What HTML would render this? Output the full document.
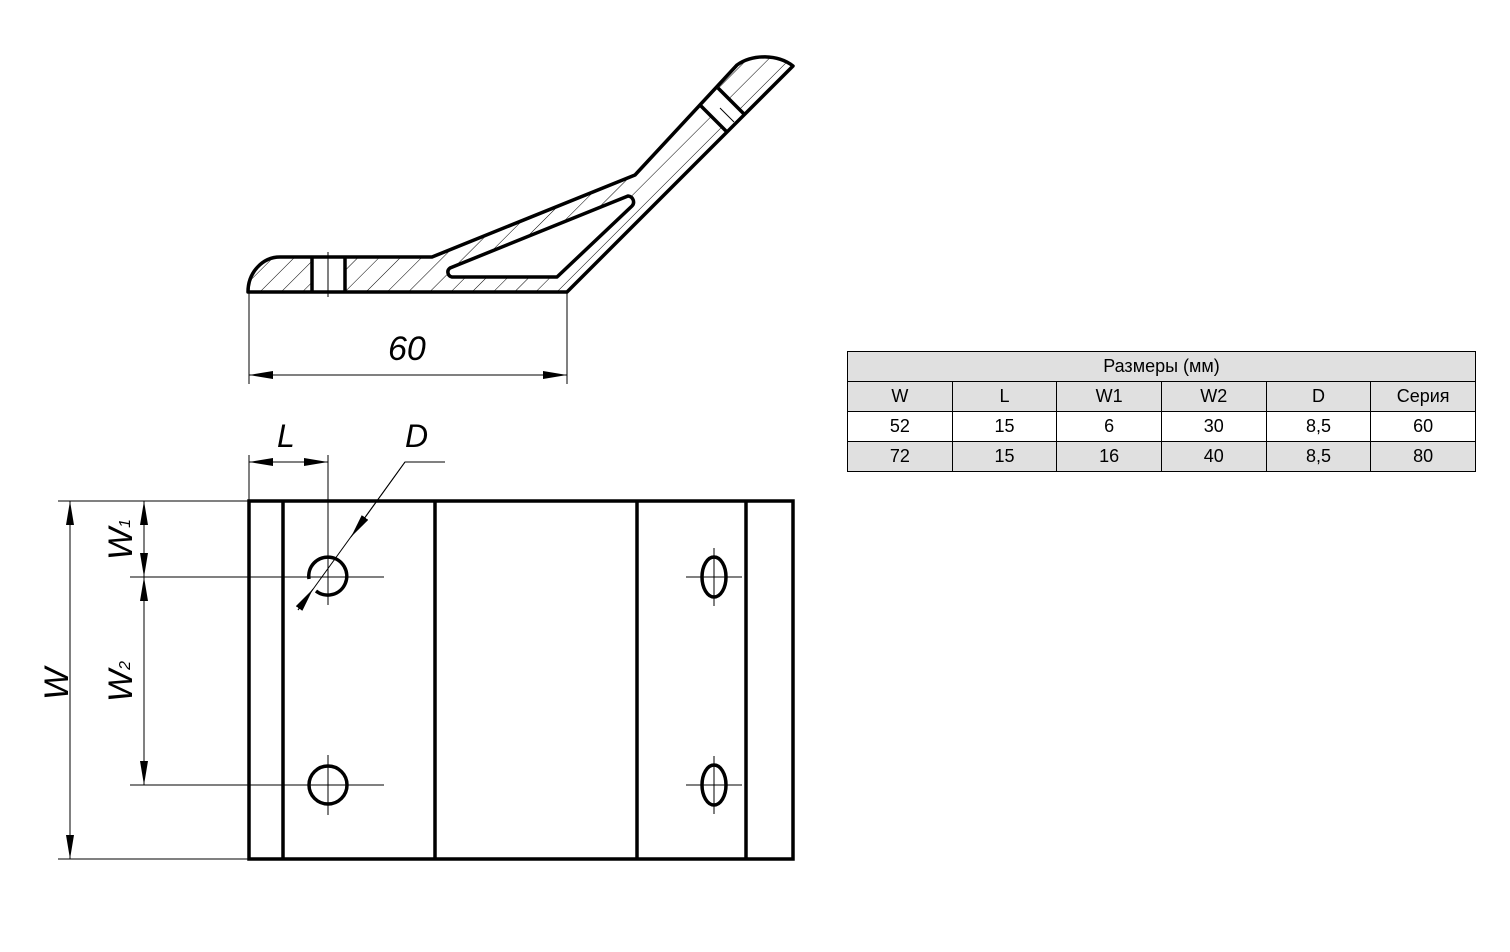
<!DOCTYPE html>
<html><head><meta charset="utf-8"><style>
body{margin:0;background:#fff;width:1510px;height:952px;overflow:hidden;position:relative;font-family:"Liberation Sans",sans-serif}
table{position:absolute;left:847px;top:351px;border-collapse:collapse;font-family:"Liberation Sans","Noto Sans CJK SC",sans-serif;font-size:18px;width:629px;table-layout:fixed}
td{border:1.5px solid #000;height:29px;padding:0;text-align:center;line-height:29px}
tr.g td{background:#e0e0e0}
</style></head><body>
<svg width="1510" height="952" style="position:absolute;left:0;top:0">
<defs>
<marker id="a" viewBox="0 0 24 8" refX="24" refY="4" markerWidth="24" markerHeight="8" markerUnits="userSpaceOnUse" orient="auto-start-reverse"><path d="M0,0L24,4L0,8Z" fill="#000"/></marker>
<pattern id="h" width="15" height="15" patternUnits="userSpaceOnUse" patternTransform="rotate(45)"><line x1="0" y1="0" x2="0" y2="15" stroke="#000" stroke-width="1"/></pattern>
<clipPath id="c"><path d="M248,292 A32,35 0 0 1 280,257 L432,257 L635,175 L737,65 A40,30 0 0 1 793,66 L567,292 Z"/></clipPath>
</defs>
<g fill="none" stroke="#000">
<rect x="240" y="50" width="560" height="250" fill="url(#h)" stroke="none" clip-path="url(#c)"/>
<path d="M450,268 L628,196 A6,6 0 0 1 632,206 L557,277 L452,277 A5,5 0 0 1 450,268 Z" fill="#fff" stroke="#000" stroke-width="3.5" stroke-linejoin="round"/>
<rect x="313" y="258" width="32" height="33" fill="#fff" stroke="none"/>
<polygon points="700.5,105.5 727,132 744.5,114.5 718,88" fill="#fff" stroke="none"/>
<line x1="720" y1="108" x2="734" y2="122" stroke-width="1"/>
<path d="M248,292 A32,35 0 0 1 280,257 L432,257 L635,175 L737,65 A40,30 0 0 1 793,66 L567,292 Z" stroke-width="3.5" stroke-linejoin="round"/>
<line x1="700.5" y1="105.5" x2="727" y2="132" stroke-width="3.5"/>
<line x1="718" y1="88" x2="744.5" y2="114.5" stroke-width="3.5"/>
<line x1="312" y1="257" x2="312" y2="292" stroke-width="3.5"/>
<line x1="345" y1="257" x2="345" y2="292" stroke-width="3.5"/>
<line x1="328" y1="252" x2="328" y2="297" stroke-width="1"/>
<line x1="249" y1="292" x2="249" y2="384" stroke-width="1"/>
<line x1="567" y1="292" x2="567" y2="384" stroke-width="1"/>
<line x1="249" y1="375" x2="567" y2="375" stroke-width="1" marker-start="url(#a)" marker-end="url(#a)"/>
<rect x="249" y="501" width="544" height="358" stroke-width="3.5"/>
<line x1="283" y1="501" x2="283" y2="859" stroke-width="3.5"/>
<line x1="435" y1="501" x2="435" y2="859" stroke-width="3.5"/>
<line x1="637" y1="501" x2="637" y2="859" stroke-width="3.5"/>
<line x1="746" y1="501" x2="746" y2="859" stroke-width="3.5"/>
<circle cx="328" cy="785" r="19" stroke-width="3.5"/>
<path d="M309,579 A19,19 0 1 1 316,591" stroke-width="3.5"/>
<ellipse cx="714" cy="577" rx="12" ry="20" stroke-width="3.5"/>
<ellipse cx="714" cy="785" rx="12" ry="20" stroke-width="3.5"/>
<g stroke-width="1">
<line x1="130" y1="577" x2="384" y2="577"/>
<line x1="130" y1="785" x2="384" y2="785"/>
<line x1="328" y1="455" x2="328" y2="605"/>
<line x1="328" y1="755" x2="328" y2="815"/>
<line x1="686" y1="577" x2="742" y2="577"/>
<line x1="686" y1="785" x2="742" y2="785"/>
<line x1="714" y1="548" x2="714" y2="606"/>
<line x1="714" y1="756" x2="714" y2="814"/>
<line x1="58" y1="501" x2="249" y2="501"/>
<line x1="58" y1="859" x2="249" y2="859"/>
<line x1="249" y1="455" x2="249" y2="501"/>
<line x1="70" y1="501" x2="70" y2="859" marker-start="url(#a)" marker-end="url(#a)"/>
<line x1="144" y1="501" x2="144" y2="577" marker-start="url(#a)" marker-end="url(#a)"/>
<line x1="144" y1="577" x2="144" y2="785" marker-start="url(#a)" marker-end="url(#a)"/>
<line x1="249" y1="462" x2="328" y2="462" marker-start="url(#a)" marker-end="url(#a)"/>
<polyline points="445,462 405,462 298,610"/>
<line x1="405" y1="462" x2="351" y2="537" marker-end="url(#a)"/>
<line x1="298" y1="610" x2="313" y2="589" marker-end="url(#a)"/>
</g>
</g>
<g font-family="Liberation Sans,sans-serif" font-style="italic" fill="#000">
<text x="388" y="360" font-size="34">60</text>
<text x="277" y="447" font-size="32">L</text>
<text x="405" y="447" font-size="32">D</text>
<text transform="translate(68,700) rotate(-90)" font-size="34">W</text>
<text transform="translate(132,560) rotate(-90)" font-size="34">W<tspan font-size="16" dy="-2">1</tspan></text>
<text transform="translate(132,702) rotate(-90)" font-size="34">W<tspan font-size="16" dy="-2">2</tspan></text>
</g>
</svg>
<table>
<tr class="g"><td colspan="6">Размеры (мм)</td></tr>
<tr class="g"><td>W</td><td>L</td><td>W1</td><td>W2</td><td>D</td><td>Серия</td></tr>
<tr><td>52</td><td>15</td><td>6</td><td>30</td><td>8,5</td><td>60</td></tr>
<tr class="g"><td>72</td><td>15</td><td>16</td><td>40</td><td>8,5</td><td>80</td></tr>
</table>
</body></html>
